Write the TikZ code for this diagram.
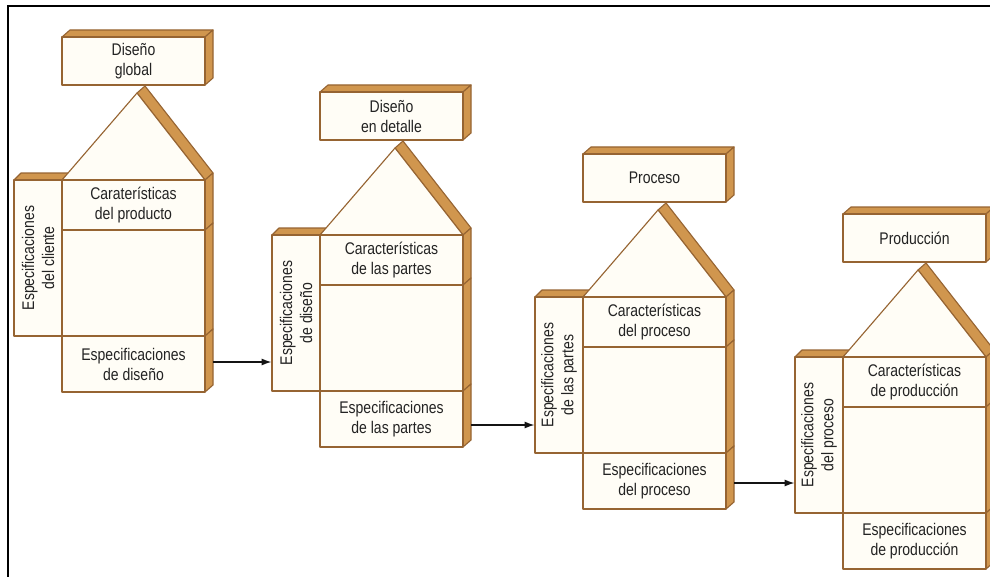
\documentclass[tikz,border=0pt]{standalone}
\usepackage{fontspec}
\setmainfont[FakeStretch=0.83]{Liberation Sans}
\usetikzlibrary{arrows.meta}

\begin{document}
\begin{tikzpicture}[x=0.025cm, y=-0.025cm]
	\tikzstyle{every node}=[font=\fontsize{12pt}{14.2pt}\selectfont, text={rgb,255:red,35; green,35; blue,35}]
	\tikzstyle{cara}=[draw={rgb,255:red,150; green,100; blue,50}, fill={rgb,255:red,255; green,253; blue,246}, line width=0.8pt, line join=round]
	\tikzstyle{canto}=[draw={rgb,255:red,150; green,100; blue,50}, fill={rgb,255:red,208; green,150; blue,78}, line width=0.8pt, line join=round]
	\tikzstyle{caja}=[cara, align=center, inner sep=0pt, minimum width=3.575cm]
	\tikzstyle{flecha}=[draw={rgb,255:red,20; green,20; blue,20}, line width=0.9pt, -{Latex[length=7pt, width=5pt]}]
	
	\clip (0,0) rectangle (990,577);
	
	\draw[canto] (62,37) -- (70,30) -- (213,30) -- (205,37) -- cycle;
	\draw[canto] (205,37) -- (213,30) -- (213,78) -- (205,85) -- cycle;
	\node[caja, minimum height=1.2cm] (titulo1) at (133.5,61) {Diseño\\global};
	
	\draw[canto] (14,180) -- (21,173) -- (69,173) -- (62,180) -- cycle;
	\node[caja, rotate=90, minimum width=3.9cm, minimum height=1.2cm] (lateral1) at (38,258) {Especificaciones\\del cliente};
	
	\draw[canto] (137,93) -- (145,86) -- (213,173) -- (205,180) -- cycle;
	\draw[canto] (205,180) -- (213,173) -- (213,223) -- (205,230) -- cycle;
	\draw[canto] (205,230) -- (213,223) -- (213,329) -- (205,336) -- cycle;
	\draw[canto] (205,336) -- (213,329) -- (213,385) -- (205,392) -- cycle;
	\draw[cara] (62,180) -- (137,93) -- (205,180) -- cycle;
	\node[caja, minimum height=1.25cm] (caract1) at (133.5,205) {Caraterísticas\\del producto};
	\draw[cara] (62,230) rectangle (205,336);
	\node[caja, minimum height=1.4cm] (espec1) at (133.5,364) {Especificaciones\\de diseño};
	
	\draw[canto] (320,92) -- (328,85) -- (471,85) -- (463,92) -- cycle;
	\draw[canto] (463,92) -- (471,85) -- (471,133) -- (463,140) -- cycle;
	\node[caja, minimum height=1.2cm] (titulo2) at (391.5,116) {Diseño\\en detalle};
	
	\draw[canto] (272,235) -- (279,228) -- (327,228) -- (320,235) -- cycle;
	\node[caja, rotate=90, minimum width=3.9cm, minimum height=1.2cm] (lateral2) at (296,313) {Especificaciones\\de diseño};
	
	\draw[canto] (395,148) -- (403,141) -- (471,228) -- (463,235) -- cycle;
	\draw[canto] (463,235) -- (471,228) -- (471,278) -- (463,285) -- cycle;
	\draw[canto] (463,285) -- (471,278) -- (471,384) -- (463,391) -- cycle;
	\draw[canto] (463,391) -- (471,384) -- (471,440) -- (463,447) -- cycle;
	\draw[cara] (320,235) -- (395,148) -- (463,235) -- cycle;
	\node[caja, minimum height=1.25cm] (caract2) at (391.5,260) {Características\\de las partes};
	\draw[cara] (320,285) rectangle (463,391);
	\node[caja, minimum height=1.4cm] (espec2) at (391.5,419) {Especificaciones\\de las partes};
	
	\draw[canto] (583,154) -- (591,147) -- (734,147) -- (726,154) -- cycle;
	\draw[canto] (726,154) -- (734,147) -- (734,195) -- (726,202) -- cycle;
	\node[caja, minimum height=1.2cm] (titulo3) at (654.5,178) {Proceso};
	
	\draw[canto] (535,297) -- (542,290) -- (590,290) -- (583,297) -- cycle;
	\node[caja, rotate=90, minimum width=3.9cm, minimum height=1.2cm] (lateral3) at (559,375) {Especificaciones\\de las partes};
	
	\draw[canto] (658,210) -- (666,203) -- (734,290) -- (726,297) -- cycle;
	\draw[canto] (726,297) -- (734,290) -- (734,340) -- (726,347) -- cycle;
	\draw[canto] (726,347) -- (734,340) -- (734,446) -- (726,453) -- cycle;
	\draw[canto] (726,453) -- (734,446) -- (734,502) -- (726,509) -- cycle;
	\draw[cara] (583,297) -- (658,210) -- (726,297) -- cycle;
	\node[caja, minimum height=1.25cm] (caract3) at (654.5,322) {Características\\del proceso};
	\draw[cara] (583,347) rectangle (726,453);
	\node[caja, minimum height=1.4cm] (espec3) at (654.5,481) {Especificaciones\\del proceso};
	
	\draw[canto] (843,214) -- (851,207) -- (994,207) -- (986,214) -- cycle;
	\draw[canto] (986,214) -- (994,207) -- (994,255) -- (986,262) -- cycle;
	\node[caja, minimum height=1.2cm] (titulo4) at (914.5,238) {Producción};
	
	\draw[canto] (795,357) -- (802,350) -- (850,350) -- (843,357) -- cycle;
	\node[caja, rotate=90, minimum width=3.9cm, minimum height=1.2cm] (lateral4) at (819,435) {Especificaciones\\del proceso};
	
	\draw[canto] (918,270) -- (926,263) -- (994,350) -- (986,357) -- cycle;
	\draw[canto] (986,357) -- (994,350) -- (994,400) -- (986,407) -- cycle;
	\draw[canto] (986,407) -- (994,400) -- (994,506) -- (986,513) -- cycle;
	\draw[canto] (986,513) -- (994,506) -- (994,562) -- (986,569) -- cycle;
	\draw[cara] (843,357) -- (918,270) -- (986,357) -- cycle;
	\node[caja, minimum height=1.25cm] (caract4) at (914.5,382) {Características\\de producción};
	\draw[cara] (843,407) rectangle (986,513);
	\node[caja, minimum height=1.4cm] (espec4) at (914.5,541) {Especificaciones\\de producción};
	
	\coordinate (salida1) at (213,362);
	\coordinate (salida2) at (471,425);
	\coordinate (salida3) at (734,483);
	\draw[flecha] (salida1) -- (salida1 -| lateral2.north);
	\draw[flecha] (salida2) -- (salida2 -| lateral3.north);
	\draw[flecha] (salida3) -- (salida3 -| lateral4.north);
	
	\draw[color={rgb,255:red,0; green,0; blue,0}, line width=2.1pt] (990,6) -- (8,6) -- (8,577);
	
\end{tikzpicture}
\end{document}
